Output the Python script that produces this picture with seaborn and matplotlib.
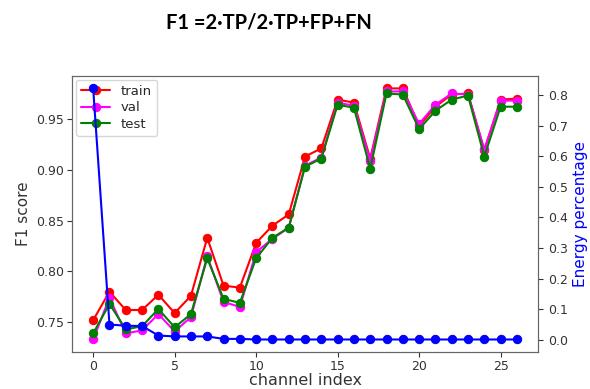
import matplotlib
matplotlib.use("Agg")
import matplotlib.pyplot as plt
import seaborn as sns
import pandas as pd

# channel indices and scores
channel = list(range(27))
train = [0.752, 0.780, 0.762, 0.762, 0.777, 0.759, 0.776, 0.833, 0.786, 0.784,
         0.828, 0.845, 0.856, 0.913, 0.921, 0.969, 0.966, 0.911, 0.980, 0.980,
         0.943, 0.962, 0.974, 0.975, 0.919, 0.969, 0.970]
val = [0.733, 0.774, 0.739, 0.742, 0.758, 0.741, 0.755, 0.815, 0.770, 0.765,
       0.819, 0.832, 0.843, 0.904, 0.912, 0.966, 0.963, 0.909, 0.977, 0.977,
       0.945, 0.964, 0.975, 0.974, 0.920, 0.968, 0.968]
test = [0.739, 0.768, 0.743, 0.746, 0.763, 0.745, 0.758, 0.813, 0.773, 0.769,
        0.813, 0.833, 0.843, 0.903, 0.911, 0.964, 0.961, 0.901, 0.975, 0.974,
        0.940, 0.958, 0.969, 0.973, 0.913, 0.962, 0.962]
energy = [0.822, 0.050, 0.046, 0.045, 0.014, 0.011, 0.011, 0.011, 0.003, 0.003,
          0.001, 0.001, 0.001, 0.001, 0.001, 0.001, 0.001, 0.001, 0.001, 0.001,
          0.001, 0.001, 0.001, 0.001, 0.001, 0.001, 0.001]

df = pd.DataFrame({"channel": channel, "train": train, "val": val,
                   "test": test, "energy": energy})

sns.set_style("ticks")
plt.rcParams["font.family"] = ["DejaVu Sans"]

fig = plt.figure(figsize=(5.9, 3.89), dpi=100)
ax1 = fig.add_axes([0.122, 0.095, 0.79, 0.71])

for col, c in [("train", "red"), ("val", "magenta"), ("test", "green")]:
    sns.lineplot(data=df, x="channel", y=col, color=c, marker="o", markersize=6,
                 markeredgecolor=c, linewidth=1.5, label=col, ax=ax1)

ax1.set_xlabel("channel index", fontsize=11.5, color="#333333", labelpad=0)
ax1.set_ylabel("F1 score", fontsize=11, color="#333333")
ax1.set_xticks([0, 5, 10, 15, 20, 25])
ax1.set_yticks([0.75, 0.80, 0.85, 0.90, 0.95])
ax1.tick_params(labelsize=9, colors="#333333", pad=2)
ax1.legend(loc="upper left", fontsize=9.5, handlelength=2.2,
           borderaxespad=0.3, labelspacing=0.25)

ax2 = ax1.twinx()
sns.lineplot(data=df, x="channel", y="energy", color="blue", marker="o",
             markersize=6, markeredgecolor="blue", linewidth=1.5, ax=ax2)
ax2.set_ylabel("Energy percentage", fontsize=11, color="blue")
ax2.set_yticks([0.0, 0.1, 0.2, 0.3, 0.4, 0.5, 0.6, 0.7, 0.8])
ax2.tick_params(labelsize=9, colors="#333333")

for ax in (ax1, ax2):
    for s in ax.spines.values():
        s.set_color("#666666")

fig.text(0.456, 0.943, "F1 =2\u00b7TP/2\u00b7TP+FP+FN", ha="center", va="center",
         fontsize=14.5, fontweight="bold", color="black",
         family=["Lato", "DejaVu Sans"])

fig.savefig("out.png", dpi=100)
